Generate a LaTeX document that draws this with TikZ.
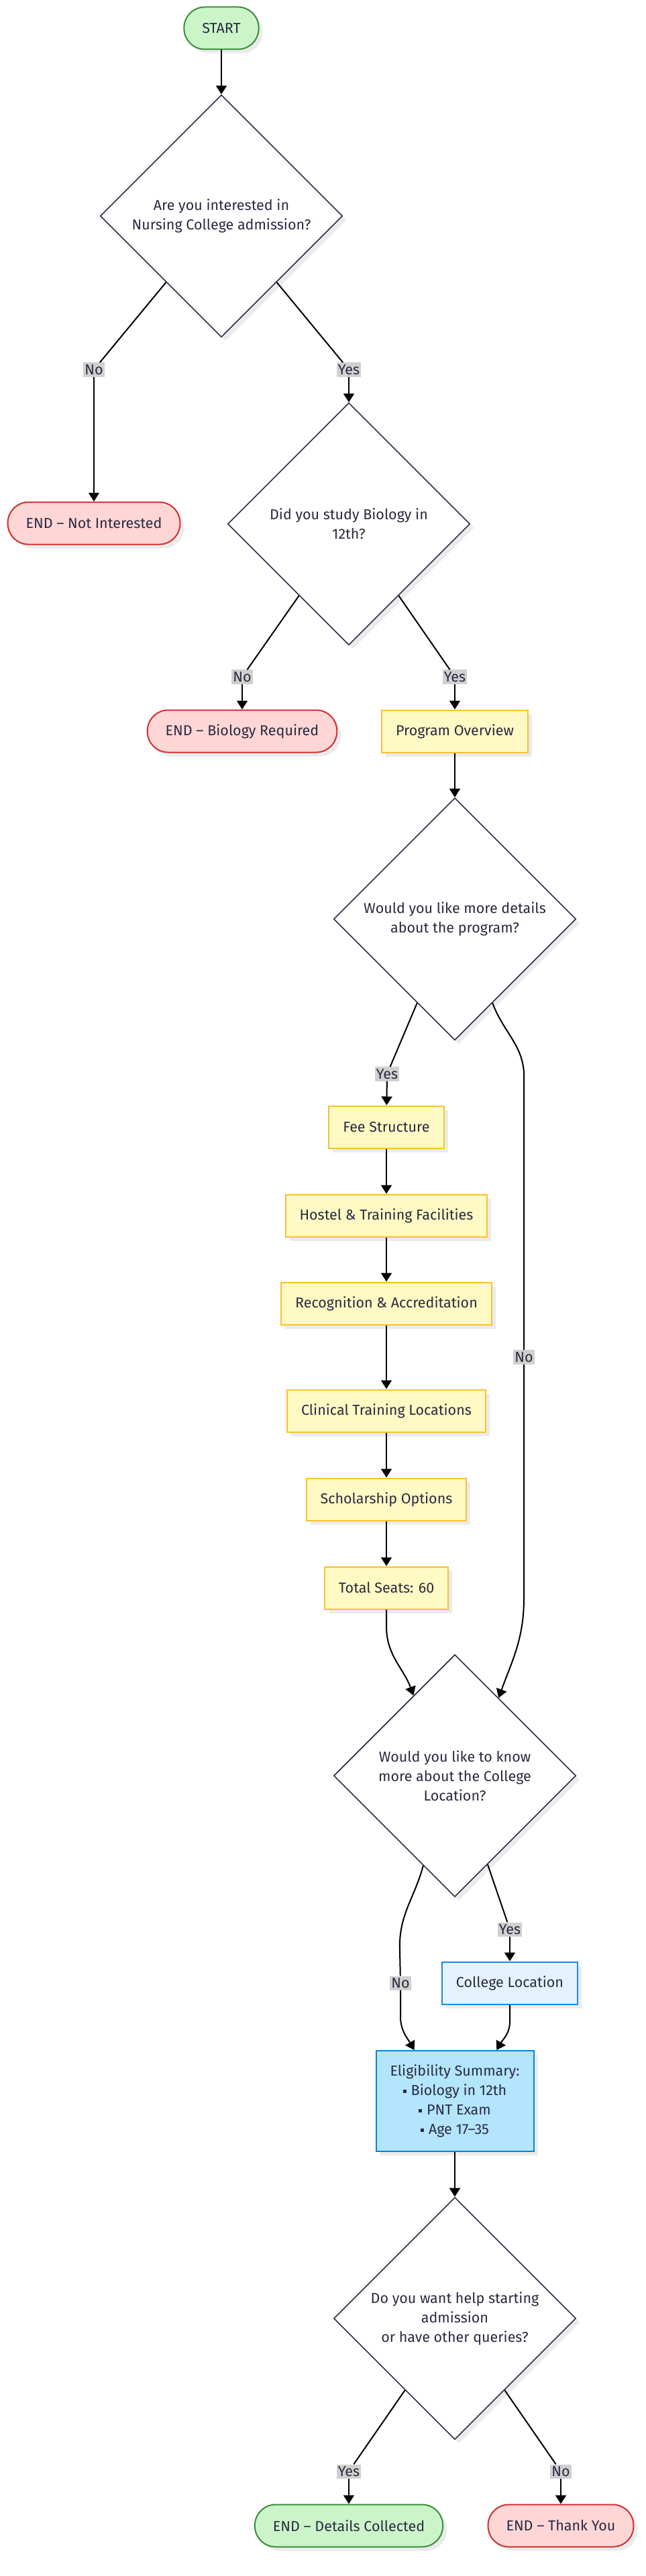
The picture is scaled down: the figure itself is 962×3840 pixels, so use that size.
\documentclass[tikz,border=0pt]{standalone}
\usepackage{fontspec}
\setmainfont{Fira Sans}
\usetikzlibrary{shapes.geometric,arrows.meta,calc,shadows}

\definecolor{txt}{HTML}{2A2A40}
\definecolor{qline}{HTML}{2E2E48}
\definecolor{grnfill}{HTML}{CBF5C9}
\definecolor{grnline}{HTML}{3A8F3A}
\definecolor{redfill}{HTML}{FFD6D6}
\definecolor{redline}{HTML}{D32F2F}
\definecolor{yelfill}{HTML}{FFF9C4}
\definecolor{yelline}{HTML}{FBC02D}
\definecolor{bluefill}{HTML}{E3F2FD}
\definecolor{blueline}{HTML}{1E88E5}
\definecolor{skyfill}{HTML}{B3E5FC}
\definecolor{skyline}{HTML}{0288D1}
\definecolor{lblbg}{HTML}{D0D0D0}

\newcommand{\sqb}{\rule[4pt]{5pt}{5pt}\hspace{7pt}}

\begin{document}
\begin{tikzpicture}[x=1pt,y=-1pt,
  every node/.style={text=txt,font=\fontsize{21.5}{29}\selectfont},
  boxshadow/.style={drop shadow={shadow xshift=6pt,shadow yshift=-6pt,fill=black!8,opacity=1}},
  term/.style={boxshadow,line width=2pt,rounded corners=31pt,minimum height=63pt,inner xsep=27pt},
  goodend/.style={term,fill=grnfill,draw=grnline},
  badend/.style={term,fill=redfill,draw=redline},
  info/.style={boxshadow,draw=yelline,fill=yelfill,line width=2pt,minimum height=63pt,inner xsep=21pt},
  place/.style={info,draw=blueline,fill=bluefill},
  summary/.style={info,draw=skyline,fill=skyfill,minimum height=150pt,align=center},
  quest/.style={boxshadow,diamond,aspect=1,draw=qline,fill=white,line width=1.6pt,minimum size=361pt,inner sep=0pt,align=center},
  lbl/.style={fill=lblbg,inner xsep=2pt,inner ysep=3pt},
  conn/.style={line width=2pt,black},
  arr/.style={conn,-{Triangle[length=13pt,width=16pt]}},
]
  % helper grid: comment for final drawing
  % \draw[help lines,step=100] (0,0) grid (962,3840);

  \useasboundingbox (0,0) rectangle (962,3840);

  % % start and first questions
  \node[goodend] (start) at (330,42) {START};
  \node[quest] (qint) at (330,322) {Are you interested in\\Nursing College admission?};
  \node[badend] (endni) at (140,780) {END – Not Interested};
  \node[quest] (qbio) at (520,781) {Did you study Biology in\\12th?};
  \node[badend] (endbio) at (361,1090) {END – Biology Required};
  \node[info] (overview) at (678,1090) {Program Overview};
  \node[quest] (qmore) at (678,1370) {Would you like more details\\about the program?};

  % % program details
  \node[info] (fee) at (576,1680) {Fee Structure};
  \node[info] (hostel) at (576,1812) {Hostel \& Training Facilities};
  \node[info] (recog) at (576,1943) {Recognition \& Accreditation};
  \node[info] (clinical) at (576,2103) {Clinical Training Locations};
  \node[info] (schol) at (576,2235) {Scholarship Options};
  \node[info] (seats) at (576,2367) {Total Seats: 60};

  % % location and summary
  \node[quest] (qloc) at (678,2647) {Would you like to know\\more about the College\\Location?};
  \node[place] (colloc) at (760,2956) {College Location};
  \node[summary] (elig) at (678,3132) {Eligibility Summary:\\\sqb Biology in 12th\\\sqb PNT Exam\\\sqb Age 17–35};
  \node[quest] (qhelp) at (678,3456) {Do you want help starting\\admission\\or have other queries?};
  \node[goodend] (enddc) at (520,3765) {END – Details Collected};
  \node[badend] (endty) at (836,3765) {END – Thank You};

  % % edge labels
  \node[lbl] (l1no) at (140,551) {No};
  \node[lbl] (l1yes) at (520,551) {Yes};
  \node[lbl] (l2no) at (361,1009) {No};
  \node[lbl] (l2yes) at (678,1009) {Yes};
  \node[lbl] (l3yes) at (577,1601) {Yes};
  \node[lbl] (l3no) at (781,2023) {No};
  \node[lbl] (l4yes) at (760,2876) {Yes};
  \node[lbl] (l4no) at (597,2956) {No};
  \node[lbl] (l5yes) at (520,3684) {Yes};
  \node[lbl] (l5no) at (836,3684) {No};

  % % connectors
  \draw[arr] (start) -- (qint);
  \draw[conn] ($(qint.south)!0.455!(qint.west)$) -- (l1no);
  \draw[arr] (l1no) -- (endni);
  \draw[conn] ($(qint.south)!0.455!(qint.east)$) -- (l1yes);
  \draw[arr] (l1yes) -- (qbio);

  \draw[conn] ($(qbio.south)!0.41!(qbio.west)$) -- (l2no);
  \draw[arr] (l2no) -- (endbio);
  \draw[conn] ($(qbio.south)!0.41!(qbio.east)$) -- (l2yes);
  \draw[arr] (l2yes) -- (overview);
  \draw[arr] (overview) -- (qmore);

  \draw[conn] ($(qmore.south)!0.31!(qmore.west)$) -- (l3yes);
  \draw[arr] (l3yes) -- (fee);
  \foreach \a/\b in {fee/hostel,hostel/recog,recog/clinical,clinical/schol,schol/seats}
    \draw[arr] (\a) -- (\b);
  \draw[arr] (seats.south) -- ++(0,25) to[out=-90,in=110] ($(qloc.north)!0.34!(qloc.west)$);
  \draw[conn] ($(qmore.south)!0.31!(qmore.east)$) to[out=-70,in=90] ++(47,110) -- (l3no);
  \draw[arr] (l3no) -- ++(0,360) to[out=-90,in=70] ($(qloc.north)!0.36!(qloc.east)$);

  \draw[conn] ($(qloc.south)!0.26!(qloc.west)$) to[out=-105,in=90] ++(-35,120) -- (l4no);
  \draw[arr] (l4no) -- ++(0,50) to[out=-90,in=120] ($(elig.north west)!0.245!(elig.north east)$);
  \draw[conn] ($(qloc.south)!0.27!(qloc.east)$) -- (l4yes);
  \draw[arr] (l4yes) -- (colloc);
  \draw[arr] (colloc.south) -- ++(0,25) to[out=-90,in=60] ($(elig.north west)!0.763!(elig.north east)$);

  \draw[arr] (elig) -- (qhelp);
  \draw[conn] ($(qhelp.south)!0.41!(qhelp.west)$) -- (l5yes);
  \draw[arr] (l5yes) -- (enddc);
  \draw[conn] ($(qhelp.south)!0.41!(qhelp.east)$) -- (l5no);
  \draw[arr] (l5no) -- (endty);

\end{tikzpicture}
\end{document}
